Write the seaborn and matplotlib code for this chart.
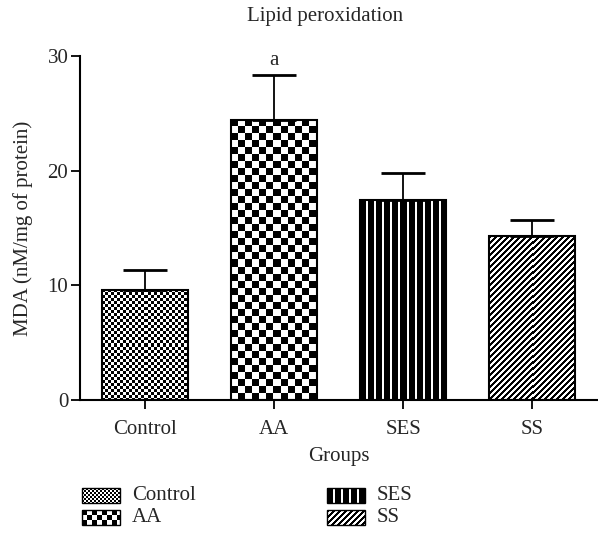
import numpy as np
import pandas as pd
import matplotlib
matplotlib.use('Agg')
import matplotlib.pyplot as plt
import seaborn as sns
from matplotlib.patches import Rectangle

# data
groups = ['Control', 'AA', 'SES', 'SS']
mda_mean = [9.62, 24.45, 17.41, 14.27]
mda_sem = [1.71, 3.88, 2.38, 1.45]
fills = ['fine_check', 'coarse_check', 'vstripes', 'diagonal']
y_ticks = [0, 10, 20, 30]
sig_labels = ['', 'a', '', '']

df = pd.DataFrame({'Group': groups, 'MDA': mda_mean, 'SEM': mda_sem})


def pattern_img(kind, w, h, scale=1.0):
    yy, xx = np.mgrid[0:h, 0:w]
    if kind == 'fine_check':
        c = max(2, int(round(3 * scale)))
        on = ((xx // c) + (yy // c)) % 2 == 0
    elif kind == 'coarse_check':
        c = max(3, int(round(7 * scale)))
        on = ((xx // c) + (yy // c)) % 2 == 0
    elif kind == 'vstripes':
        on = (xx % 8) < 6
    else:
        on = ((xx + yy) % 6) < 3
    return np.where(on, 0.0, 1.0)


sns.set_theme(style='ticks')
plt.rcParams['font.family'] = ['Liberation Serif', 'DejaVu Serif']
fs = 15

fig = plt.figure(figsize=(5.98, 5.33), dpi=100)
ax = fig.add_axes([0.134, 0.2495, 0.864, 0.6455])

sns.barplot(data=df, x='Group', y='MDA', order=groups, color='white',
            edgecolor='black', linewidth=1.5, width=0.667, errorbar=None,
            saturation=1, ax=ax)
ax.set_xlim(-0.5, 3.5)
ax.set_ylim(0, 30)

# GraphPad style upper-only error bars
ax.errorbar(np.arange(len(groups)), df['MDA'],
            yerr=[np.zeros(len(groups)), df['SEM']], fmt='none',
            ecolor='black', elinewidth=1.3, capsize=16, capthick=2, zorder=5)

# fill the bars with the black/white patterns
fig.canvas.draw()
for bar, kind in zip(ax.patches, fills):
    bb = bar.get_window_extent()
    img = pattern_img(kind, int(round(bb.width)), int(round(bb.height)))
    x0, y0 = bar.get_x(), bar.get_y()
    im = ax.imshow(img, cmap='gray', vmin=0, vmax=1, interpolation='nearest',
                   aspect='auto', extent=(x0, x0 + bar.get_width(), y0, y0 + bar.get_height()),
                   zorder=2)
    im.set_clip_path(bar)
    bar.set_facecolor('none')
    bar.set_zorder(3)
ax.set_xlim(-0.5, 3.5)
ax.set_ylim(0, 30)

for i, s in enumerate(sig_labels):
    if s:
        ax.annotate(s, (i, mda_mean[i] + mda_sem[i]), xytext=(0, 4),
                    textcoords='offset points', ha='center', va='bottom', fontsize=fs)

ax.set_yticks(y_ticks)
ax.set_ylabel('MDA (nM/mg of protein)', fontsize=15)
ax.yaxis.set_label_coords(-0.091, 0.5)
ax.set_xlabel('Groups', fontsize=fs, labelpad=6)
ax.tick_params(axis='both', labelsize=fs, length=6.5, width=1.3, color='black')
ax.tick_params(axis='y', pad=2)
ax.tick_params(axis='x', pad=8)
for side in ['left', 'bottom']:
    ax.spines[side].set_linewidth(1.5)
    ax.spines[side].set_color('black')
sns.despine(ax=ax)

fig.text(325 / 598, 1 - 16 / 533, 'Lipid peroxidation', ha='center', va='center', fontsize=fs)

# legend drawn in a pixel-coordinate axes below the chart
lax = fig.add_axes([0, 0, 1, 1 - 440 / 533])
lax.set_xlim(0, 598)
lax.set_ylim(533, 440)
lax.axis('off')
legend_pos = [(82, 488), (82, 510), (327, 488), (327, 510)]
for (lx, ly), g, kind in zip(legend_pos, groups, fills):
    w, h = 38, 15
    lax.imshow(pattern_img(kind, w, h, scale=0.75), cmap='gray', vmin=0, vmax=1,
               interpolation='nearest', aspect='auto', extent=(lx, lx + w, ly + h, ly))
    lax.add_patch(Rectangle((lx, ly), w, h, fill=False, edgecolor='black', linewidth=1))
    lax.text(lx + 50, ly + h / 2, g, ha='left', va='center', fontsize=fs)
lax.set_xlim(0, 598)
lax.set_ylim(533, 440)

fig.savefig('out.png', dpi=100)
